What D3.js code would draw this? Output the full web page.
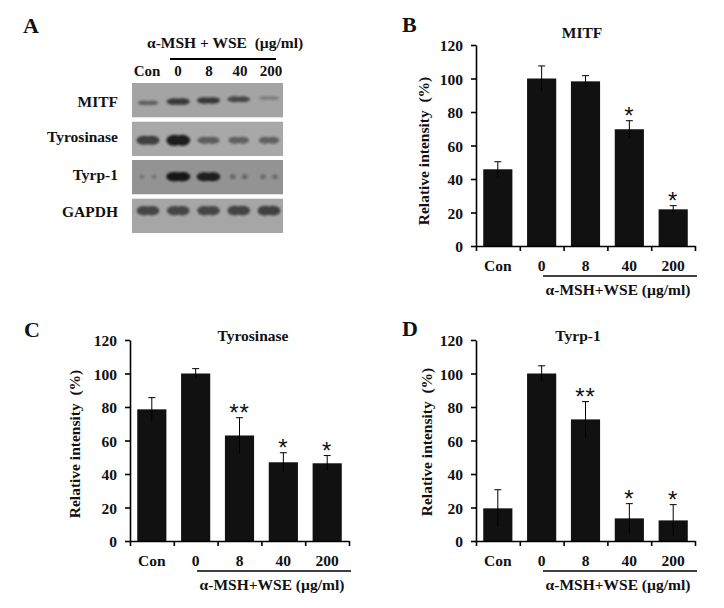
<!DOCTYPE html>
<html>
<head>
<meta charset="utf-8">
<script src="https://cdn.jsdelivr.net/npm/d3@7"></script>
<style>
html, body { margin: 0; padding: 0; background: #fff; }
svg { display: block; }
text { font-family: "Liberation Serif", serif; font-weight: bold; fill: #111; white-space: pre; }
</style>
</head>
<body>
<div id="chart"></div>
<script>
//data
var categories = ["Con", "0", "8", "40", "200"];
var yTicks = [0, 20, 40, 60, 80, 100, 120];
var mitfValues = [45.8, 100, 98.3, 69.7, 21.9];
var mitfErrors = [4.5, 7.5, 3.4, 5.1, 2.2];
var mitfStars = ["", "", "", "*", "*"];
var tyrValues = [78.6, 100, 63, 47, 46.4];
var tyrErrors = [7, 2.9, 10.6, 5.7, 4.6];
var tyrStars = ["", "", "**", "*", "*"];
var tyrpValues = [19.5, 100, 72.6, 13.5, 12.3];
var tyrpErrors = [11.1, 4.6, 10.6, 8.8, 9.4];
var tyrpStars = ["", "", "**", "*", "*"];

//blot band darkness per lane, estimated
var blotRows = ["MITF", "Tyrosinase", "Tyrp-1", "GAPDH"];
var blotMitf = [0.4, 0.72, 0.72, 0.6, 0.18];
var blotTyr = [0.68, 0.95, 0.45, 0.42, 0.42];
var blotTyrp = [0.14, 1, 0.92, 0.28, 0.24];
var blotGapdh = [0.62, 0.62, 0.62, 0.64, 0.66];

var caption = "\u03b1-MSH+WSE (\u00b5g/ml)";

var svg = d3.select("#chart").append("svg").attr("width", 724).attr("height", 608);
var defs = svg.append("defs");
defs.append("filter").attr("id", "bandBlur")
	.attr("x", "-30%").attr("y", "-100%").attr("width", "160%").attr("height", "300%")
	.append("feGaussianBlur").attr("stdDeviation", "1.3 1.1");

function panelLetter(s, x, y) {
	svg.append("text").attr("x", x).attr("y", y).style("font-size", "22px").text(s);
}

//draw one bar panel
function barPanel(p) {
	var x = d3.scaleBand().domain(categories).range([p.left, p.left + 219]).paddingInner(0.335).paddingOuter(0.165);
	var y = d3.scaleLinear().domain([0, 120]).range([p.bottom, p.bottom - 201]);
	var g = svg.append("g");

	g.selectAll("rect.bar").data(p.values).enter().append("rect")
		.attr("class", "bar")
		.attr("x", function(d, i) { return x(categories[i]); })
		.attr("y", function(d) { return y(d); })
		.attr("width", x.bandwidth())
		.attr("height", function(d) { return y(0) - y(d); })
		.attr("fill", "#111");

	//error bars, lower half hardly shows on the black bar
	var err = g.selectAll("g.err").data(p.values).enter().append("g").attr("class", "err")
		.attr("transform", function(d, i) { return "translate(" + (x(categories[i]) + x.bandwidth() / 2) + ",0)"; });
	err.append("line")
		.attr("y1", function(d, i) { return y(d + p.errors[i]); })
		.attr("y2", function(d, i) { return y(d - p.errors[i]); })
		.attr("stroke", "#000");
	err.append("line").attr("x1", -3.5).attr("x2", 3.5)
		.attr("y1", function(d, i) { return y(d + p.errors[i]); })
		.attr("y2", function(d, i) { return y(d + p.errors[i]); })
		.attr("stroke", "#000");

	g.selectAll("text.star").data(p.values).enter().append("text")
		.attr("class", "star")
		.attr("x", function(d, i) { return x(categories[i]) + x.bandwidth() / 2; })
		.attr("y", function(d, i) { return y(d + p.errors[i]) + 3; })
		.attr("text-anchor", "middle")
		.style("font-size", "24px").style("font-weight", "normal").style("letter-spacing", "1px")
		.style("font-family", "'Liberation Sans', sans-serif")
		.text(function(d, i) { return p.stars[i]; });

	//y axis
	var yAxis = g.append("g").attr("transform", "translate(" + p.left + ",0)")
		.call(d3.axisLeft(y).tickValues(yTicks).tickSize(5).tickSizeOuter(0).tickPadding(8));
	yAxis.selectAll("text").style("font-size", "15.5px").attr("dy", "0.36em");
	yAxis.selectAll("line,path").attr("stroke", "#000").attr("stroke-width", 1.6);

	//x axis: ticks sit between the bars, labels under them
	var edges = d3.scaleLinear().domain([0, categories.length]).range(x.range());
	var xTicks = g.append("g").attr("transform", "translate(0," + p.bottom + ")")
		.call(d3.axisBottom(edges).ticks(categories.length).tickSize(5).tickSizeOuter(0).tickFormat(""));
	xTicks.selectAll("line,path").attr("stroke", "#000").attr("stroke-width", 1.6);

	var xLabels = g.append("g").attr("transform", "translate(0," + (p.bottom + 8.7) + ")")
		.call(d3.axisBottom(x).tickSize(0).tickPadding(5));
	xLabels.select("path").remove();
	xLabels.selectAll("text").style("font-size", "15.5px").attr("dy", "0.71em");

	g.append("line")
		.attr("x1", p.left + 67).attr("x2", p.left + 221)
		.attr("y1", p.bottom + 30).attr("y2", p.bottom + 30)
		.attr("stroke", "#000").attr("stroke-width", 1.6);
	g.append("text")
		.attr("x", p.left + 142).attr("y", p.bottom + 49)
		.attr("text-anchor", "middle").style("font-size", "15.5px")
		.text(caption);

	g.append("text")
		.attr("x", p.titleX).attr("y", p.titleY)
		.attr("text-anchor", "middle").style("font-size", "15.5px")
		.text(p.title);

	g.append("text")
		.attr("transform", "translate(" + (p.left + p.labelDx) + "," + p.labelY + ") rotate(-90)")
		.attr("text-anchor", "middle").style("font-size", "15.5px")
		.text(p.yLabel);
}

//panel A, the blot
var lanes = d3.scalePoint().domain(categories).range([148, 269]);
var laneText = d3.scalePoint().domain(categories).range([147, 271]);
var rowY = d3.scaleBand().domain(blotRows).range([83, 233]).paddingInner(0.1);
var blotData = [blotMitf, blotTyr, blotTyrp, blotGapdh];
var rowFill = ["#a4a4a4", "#a8a8a8", "#939393", "#a6a6a6"];
var rowShift = [2.5, 1.5, -0.5, -5];
var rowSlope = [-1.2, 0, 0, 0];
var rowThick = [0.85, 1.2, 1, 1.35];
var labelShift = [6.7, 3.2, 2.8, 1.3];
var bandOpacity = d3.scaleLinear().domain([0, 1]).range([0.12, 1]);
var lobeWidth = d3.scaleLinear().domain([0, 0.3, 0.45, 1]).range([2, 3, 7, 8]);
var bandHeight = d3.scaleLinear().domain([0, 1]).range([3, 9.5]);

blotRows.forEach(function(row, r) {
	var top = rowY(row);
	var clip = "blot" + r;
	defs.append("clipPath").attr("id", clip).append("rect")
		.attr("x", 132).attr("y", top).attr("width", 151).attr("height", rowY.bandwidth());
	var g = svg.append("g").attr("clip-path", "url(#" + clip + ")");
	g.append("rect").attr("x", 132).attr("y", top).attr("width", 151).attr("height", rowY.bandwidth())
		.attr("fill", rowFill[r]);

	//each band is two lobes, only the faint Tyrp-1 ones fall apart into two specks
	var bands = g.selectAll("g.band").data(blotData[r]).enter().append("g")
		.attr("class", "band")
		.attr("opacity", function(d) { return bandOpacity(d); })
		.attr("filter", "url(#bandBlur)");
	[-1, 1].forEach(function(side) {
		bands.append("ellipse")
			.attr("cx", function(d, i) { return lanes(categories[i]) + side * (d < 0.3 && r == 2 ? 6 : 4); })
			.attr("cy", function(d, i) { return top + rowY.bandwidth() / 2 + rowShift[r] + rowSlope[r] * i; })
			.attr("rx", function(d) { return r == 2 ? lobeWidth(d) : Math.max(6, lobeWidth(d)); })
			.attr("ry", function(d) { return bandHeight(d) * rowThick[r] / 2; })
			.attr("fill", "#141414");
	});

	svg.append("text")
		.attr("x", 118).attr("y", top + rowY.bandwidth() / 2 + labelShift[r])
		.attr("text-anchor", "end").style("font-size", "15.5px")
		.text(row);
});

svg.selectAll("text.lane").data(categories).enter().append("text")
	.attr("class", "lane")
	.attr("x", function(d) { return laneText(d); })
	.attr("y", 76)
	.attr("text-anchor", "middle").style("font-size", "15px")
	.text(function(d) { return d; });

svg.append("text").attr("x", 147).attr("y", 48).style("font-size", "15.5px")
	.text("\u03b1-MSH + WSE  (\u00b5g/ml)");
svg.append("line").attr("x1", 170).attr("x2", 276).attr("y1", 59).attr("y2", 59)
	.attr("stroke", "#000").attr("stroke-width", 2);

panelLetter("A", 23, 33);
panelLetter("B", 402, 32);
panelLetter("C", 24, 337);
panelLetter("D", 402, 336);

barPanel({ left: 476, bottom: 246, values: mitfValues, errors: mitfErrors, stars: mitfStars,
	title: "MITF", titleX: 582, titleY: 38, yLabel: "Relative intensity  (%)", labelDx: -47, labelY: 151 });
barPanel({ left: 130, bottom: 541, values: tyrValues, errors: tyrErrors, stars: tyrStars,
	title: "Tyrosinase", titleX: 253, titleY: 341, yLabel: "Relative intensity  (%)", labelDx: -50, labelY: 444 });
barPanel({ left: 476, bottom: 541, values: tyrpValues, errors: tyrpErrors, stars: tyrpStars,
	title: "Tyrp-1", titleX: 578, titleY: 341, yLabel: "Relative intensity  (%)", labelDx: -44, labelY: 442 });
</script>
</body>
</html>
